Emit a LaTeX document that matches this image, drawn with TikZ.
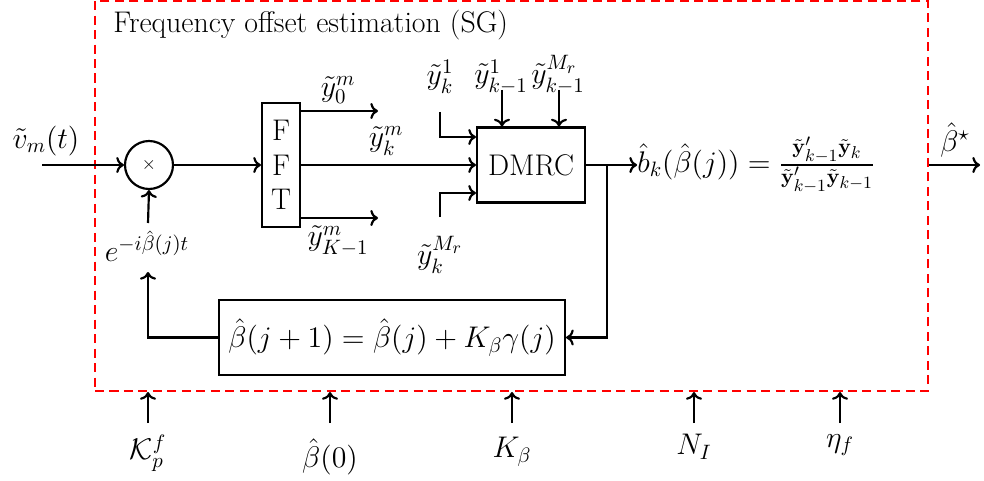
\RequirePackage{fix-cm}
\documentclass[tikz,border=0pt]{standalone}
\usepackage{amsmath}
\DeclareMathSizes{16.5}{16.5}{11.5}{9.5}
\usetikzlibrary{arrows.meta}
\def\PX{0.5525pt}
\tikzset{
  lbl/.style={inner sep=0pt, font=\fontsize{16.5}{19}\selectfont},
  blk/.style={draw, line width=1.2pt, inner sep=0pt, font=\fontsize{16.5}{19}\selectfont},
  frame/.style={draw=red, dash pattern=on 5pt off 3pt, line width=1.2pt, inner sep=0pt},
  conn/.style={line width=1.2pt}
}
\begin{document}
\begin{tikzpicture}[x=\PX,y=-\PX]
\useasboundingbox (0,0) rectangle (984,481);
% frame
\node[frame, minimum width=833*\PX, minimum height=390*\PX] (sg) at (511.5,196) {};
\node[lbl, anchor=base west] (title) at (113,33) {Frequency offset estimation (SG)};
% blocks
\node[circle, draw, line width=1.2pt, minimum size=48*\PX, inner sep=0pt] (mult) at (149,165) {\normalsize$\times$};
\node[blk, minimum width=38*\PX, minimum height=124*\PX, align=center] (fft) at (281,165) {F\\F\\T};
\node[blk, minimum width=108*\PX, minimum height=75*\PX] (dmrc) at (531,165) {DMRC};
\node[blk, minimum width=346*\PX, minimum height=75*\PX] (upd) at (392,337.5) {$\hat\beta(j+1)=\hat\beta(j)+K_\beta\gamma(j)$};
\node[lbl, anchor=base west] (bk) at (637,172.5) {$\hat b_k(\hat\beta(j))=\frac{\tilde{\mathbf y}'_{k-1}\tilde{\mathbf y}_k}{\tilde{\mathbf y}'_{k-1}\tilde{\mathbf y}_{k-1}}$};
% labels
\node[lbl] (vin) at (46,141) {$\tilde v_m(t)$};
\node[lbl] (elab) at (147,246) {$e^{-i\hat\beta(j)t}$};
\node[lbl] (y0) at (338,90) {$\tilde y_0^m$};
\node[lbl] (yk) at (386,141) {$\tilde y_k^m$};
\node[lbl] (yK) at (338,241) {$\tilde y_{K-1}^m$};
\node[lbl] (yk1) at (440,77) {$\tilde y_k^1$};
\node[lbl] (ykm1) at (501,77) {$\tilde y_{k-1}^1$};
\node[lbl] (ykmM) at (558,75) {$\tilde y_{k-1}^{M_r}$};
\node[lbl] (ykM) at (440,255) {$\tilde y_k^{M_r}$};
\node[lbl] (bstar) at (955,140) {$\hat\beta^\star$};
\node[lbl] (kp) at (148,453) {$\mathcal K_p^f$};
\node[lbl] (b0) at (330,457) {$\hat\beta(0)$};
\node[lbl] (kb) at (512,452) {$K_\beta$};
\node[lbl] (ni) at (694,447) {$N_I$};
\node[lbl] (eta) at (840,445) {$\eta_f$};
% coordinates
\coordinate (in) at (42,165);
\coordinate (o0) at (378,111);
\coordinate (oK) at (378,218);
\coordinate (a1) at (440,112);
\coordinate (aM) at (440,217);
\coordinate (t1) at (502,90);
\coordinate (t2) at (559,90);
\coordinate (br) at (607,165);
\coordinate (fb) at (148,272);
\coordinate (e1) at (148,223);
\coordinate (out) at (980,165);
\coordinate (p1) at (148,423);
\coordinate (p2) at (330,423);
\coordinate (p3) at (512,423);
\coordinate (p4) at (694,423);
\coordinate (p5) at (840,423);
% connectors
\begin{scope}[conn]
\draw[->] (in) -- (mult.west);
\draw[->] (mult.east) -- (fft.west);
\draw[->] (fft.east |- o0) -- (o0);
\draw[->] (fft.east |- oK) -- (oK);
\draw[->] (fft.east) -- (dmrc.west);
\draw[->] (a1) |- ([yshift=28*\PX]dmrc.west);
\draw[->] (aM) |- ([yshift=-28*\PX]dmrc.west);
\draw[->] (t1) -- (t1 |- dmrc.north);
\draw[->] (t2) -- (t2 |- dmrc.north);
\draw[->] (dmrc.east) -- (bk.west |- dmrc.east);
\draw[->] (br) |- (upd.east);
\draw[->] (upd.west) -| (fb);
\draw[->] (e1) -- (mult.south);
\draw[->] (sg.east |- dmrc.east) -- (out);
\draw[->] (p1) -- (p1 |- sg.south);
\draw[->] (p2) -- (p2 |- sg.south);
\draw[->] (p3) -- (p3 |- sg.south);
\draw[->] (p4) -- (p4 |- sg.south);
\draw[->] (p5) -- (p5 |- sg.south);
\end{scope}
\end{tikzpicture}
\end{document}
